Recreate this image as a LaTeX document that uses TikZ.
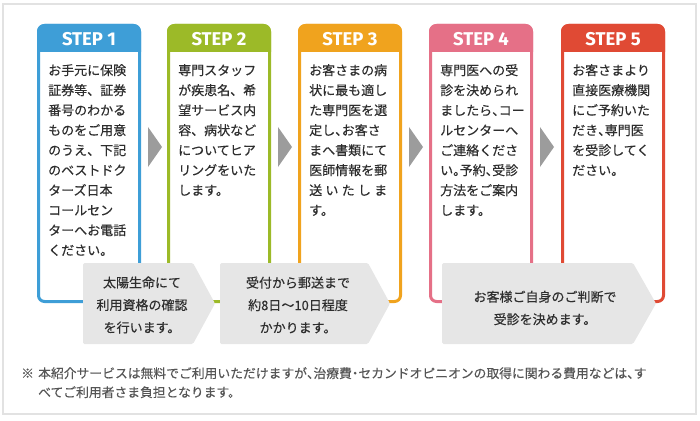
\documentclass[tikz,border=0pt]{standalone}
\usepackage{fontspec}
\newfontfamily\jp{Noto Sans CJK JP}[FakeBold=0.3]
\newfontfamily\stepfont{Fira Sans}
\definecolor{cA}{HTML}{3E9ED7}
\definecolor{cB}{HTML}{9CBA28}
\definecolor{cC}{HTML}{F0A31E}
\definecolor{cD}{HTML}{E57087}
\definecolor{cE}{HTML}{E04A34}
\definecolor{chev}{HTML}{9C9C9C}
\definecolor{noteg}{HTML}{E6E6E6}
\definecolor{txt}{HTML}{2E2E2E}
\definecolor{frameg}{HTML}{E2E2E2}
\definecolor{footg}{HTML}{555555}
\newcommand{\hp}[1]{\makebox[6.5pt][l]{#1}}
\newcommand{\hpc}[1]{\makebox[6.5pt][c]{#1}}
\tikzset{
  boxtext/.style={anchor=north west, inner sep=0pt, align=left, text=txt,
    font=\jp\fontsize{13pt}{20pt}\selectfont},
  headtext/.style={text=white, inner sep=0pt, font=\stepfont\bfseries\fontsize{18.5pt}{20pt}\selectfont},
  notetext/.style={inner sep=0pt, align=center, text=txt,
    font=\jp\fontsize{13pt}{22.5pt}\selectfont},
  notebox/.style={fill=noteg, rounded corners=1.5pt},
  chevshape/.style={fill=chev},
}
\newcommand{\stepbox}[4]{% #1 left x, #2 color, #3 label, #4 name
  \draw[#2, line width=3pt, fill=white, rounded corners=6pt] (#1+1.5,25.5) rectangle (#1+102.5,301.5);
  \begin{scope}
    \clip[rounded corners=7.5pt] (#1,24) rectangle (#1+104,303);
    \fill[#2] (#1-1,23) rectangle (#1+105,52);
  \end{scope}
  \node[headtext] (#4) at (#1+52,39) {#3};
}
\begin{document}
\begin{tikzpicture}[x=1pt,y=-1pt]
\useasboundingbox (0,0) rectangle (700,420);
\draw[frameg, line width=2.5pt] (3,4) rectangle (696,414);

\stepbox{37}{cA}{STEP 1}{h1}
\stepbox{167}{cB}{STEP 2}{h2}
\stepbox{298}{cC}{STEP 3}{h3}
\stepbox{429}{cD}{STEP 4}{h4}
\stepbox{561}{cE}{STEP 5}{h5}

% chevrons between steps
\foreach \x in {148,278,409,540}{
  \fill[chevshape] (\x,127) -- (\x+14,147) -- (\x,167) -- cycle;
}

% step texts
\node[boxtext] (t1) at (48,64) {お手元に保険\\証券等、証券\\番号のわかる\\ものをご用意\\のうえ、下記\\のベストドク\\ターズ日本\\コールセン\\ターへお電話\\ください。};
\node[boxtext] (t2) at (178,64) {専門スタッフ\\が疾患名、希\\望サービス内\\容、病状など\\についてヒア\\リングをいた\\します。};
\node[boxtext] (t3) at (309,64) {お客さまの病\\状に最も適し\\た専門医を選\\定し\hp{、}お客さ\\まへ書類にて\\医師情報を郵\\\makebox[78pt][s]{送\hfill い\hfill た\hfill し\hfill ま}\\す。};
\node[boxtext] (t4) at (440,64) {専門医への受\\診を決められ\\ましたら\hp{、}コー\\ルセンターへ\\ご連絡くださ\\い\hp{。}予約\hp{、}受診\\方法をご案内\\します。};
\node[boxtext] (t5) at (572,64) {お客さまより\\直接医療機関\\にご予約いた\\だき\hp{、}専門医\\を受診してく\\ださい。};

% bottom notes
\fill[notebox] (83,263) -- (193,263) -- (215,303.5) -- (193,344) -- (83,344) -- cycle;
\fill[notebox] (220,263) -- (368,263) -- (390,303.5) -- (368,344) -- (220,344) -- cycle;
\fill[notebox] (442,263) -- (633,263) -- (656,303.5) -- (633,344) -- (442,344) -- cycle;
\node[notetext] (n1) at (142,305) {太陽生命にて\\利用資格の確認\\を行います。};
\node[notetext] (n2) at (298,305) {受付から郵送まで\\約8日〜10日程度\\かかります。};
\node[notetext] (n3) at (545,308) {お客様ご自身のご判断で\\受診を決めます。};

% footnote
\node[anchor=base west, inner sep=0pt, text=footg, font=\jp\fontsize{12.8pt}{19pt}\selectfont] (fm) at (21,378) {※};
\node[anchor=north west, inner sep=0pt, align=left, text=footg, font=\jp\fontsize{12.8pt}{19pt}\selectfont] (ft) at (38,367) {本紹介サービスは無料でご利用いただけますが\hp{、}治療費\hpc{・}セカンドオピニオンの取得に関わる費用などは\hp{、}す\\べてご利用者さま負担となります。};
\end{tikzpicture}
\end{document}
